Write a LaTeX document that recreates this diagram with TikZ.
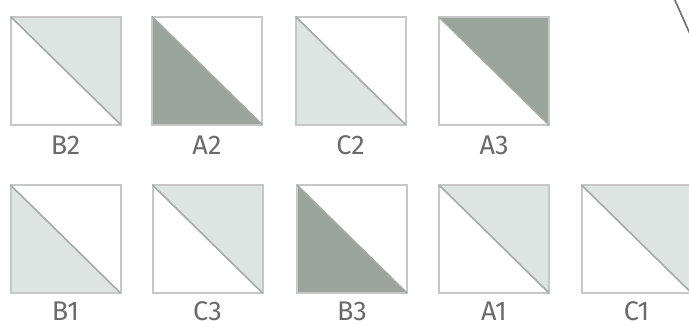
\documentclass[tikz,border=0pt]{standalone}
\usepackage{fontspec}
\setmainfont{Fira Sans}
\definecolor{lightfill}{HTML}{DEE4E1}
\definecolor{darkfill}{HTML}{9BA39D}
\definecolor{edgegrey}{HTML}{C6C8C7}
\definecolor{diaggrey}{HTML}{A4AAA6}
\definecolor{textgrey}{HTML}{6A6A6A}
\begin{document}
\begin{tikzpicture}[x=1pt,y=-1pt,
  sq/.style={draw=edgegrey,line width=2pt,minimum width=110pt,minimum height=108pt,inner sep=0pt,outer sep=0pt},
  lab/.style={text=textgrey,font=\fontsize{27}{28}\selectfont,inner sep=0pt,anchor=center},
  diag/.style={draw=diaggrey,line width=1.6pt}]
\useasboundingbox (0,0) rectangle (689,327);
\clip (0,0) rectangle (689,327);
% helper macros
\def\upperfill#1#2{\fill[#2] (#1.north west) -- (#1.north east) -- (#1.south east) -- cycle;}
\def\lowerfill#1#2{\fill[#2] (#1.north west) -- (#1.south west) -- (#1.south east) -- cycle;}
% top row
\node[sq] (b2) at (65.5,70.5) {};
\node[sq] (a2) at (207,70.5) {};
\node[sq] (c2) at (350.5,70.5) {};
\node[sq] (a3) at (494,71) {};
% bottom row
\node[sq] (b1) at (65.5,239) {};
\node[sq] (c3) at (207.5,239) {};
\node[sq] (b3) at (352,239) {};
\node[sq] (a1) at (494,239) {};
\node[sq] (c1) at (636.5,239) {};
% fills
\upperfill{b2}{lightfill}
\lowerfill{a2}{darkfill}
\lowerfill{c2}{lightfill}
\upperfill{a3}{darkfill}
\lowerfill{b1}{lightfill}
\upperfill{c3}{lightfill}
\lowerfill{b3}{darkfill}
\upperfill{a1}{lightfill}
\upperfill{c1}{lightfill}
% redraw borders and diagonals
\foreach \n in {b2,a2,c2,a3,b1,c3,b3,a1,c1}{
  \draw[draw=edgegrey,line width=2pt] (\n.north west) rectangle (\n.south east);
  \draw[diag] (\n.north west) -- (\n.south east);
}
% labels
\node[lab] (lb2) at (65.5,145) {B2};
\node[lab] (la2) at (207,145) {A2};
\node[lab] (lc2) at (350.5,145) {C2};
\node[lab] (la3) at (494,145) {A3};
\node[lab] (lb1) at (65.5,311) {B1};
\node[lab] (lc3) at (207.5,311) {C3};
\node[lab] (lb3) at (352,311) {B3};
\node[lab] (la1) at (494,311) {A1};
\node[lab] (lc1) at (636.5,311) {C1};
% partial line at top right
\coordinate (p1) at (674,-2);
\coordinate (p2) at (690,34);
\draw[draw=darkfill!70!black,line width=1.6pt] (p1) -- (p2);
\end{tikzpicture}
\end{document}
